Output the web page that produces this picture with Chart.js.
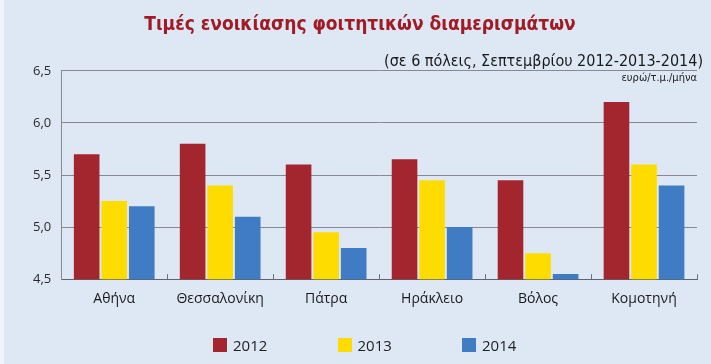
<!DOCTYPE html>
<html>
<head>
<meta charset="utf-8">
<script src="https://cdn.jsdelivr.net/npm/chart.js@4.4.1/dist/chart.umd.min.js"></script>
<style>
  html, body { margin: 0; padding: 0; background: #DDE8F4; }
  #wrap { position: relative; width: 711px; height: 364px; background: #DDE8F4; overflow: hidden; }
  #wrap:before { content: ""; position: absolute; left: 0; top: 0; width: 4px; height: 364px; background: #EEF4FA; }
  canvas { position: absolute; left: 0; top: 0; }
  #sub { position: absolute; right: 8px; top: 51px; font: 16px/19px "DejaVu Sans Condensed", sans-serif; color: #1a1a1a; white-space: nowrap; }
  #unit { position: absolute; right: 14px; top: 71px; font: 11px "DejaVu Sans Condensed", sans-serif; color: #222; }
  #legend { position: absolute; left: 213px; top: 335px; display: flex; }
  .item { width: 124.5px; display: flex; align-items: center; font: 15px "Open Sans", sans-serif; color: #222; }
  .box { width: 14px; height: 14px; margin-right: 6px; }
</style>
</head>
<body>
<div id="wrap">
  <canvas id="c" width="711" height="364"></canvas>
  <div id="sub"></div>
  <div id="unit">ευρώ/τ.μ./μήνα</div>
  <div id="legend"></div>
</div>
<script>
const titleText = "Τιμές ενοικίασης φοιτητικών διαμερισμάτων";
const subtitleText = "(σε 6 πόλεις, Σεπτεμβρίου 2012-2013-2014)";
const cities = ["Αθήνα", "Θεσσαλονίκη", "Πάτρα", "Ηράκλειο", "Βόλος", "Κομοτηνή"];
const years = ["2012", "2013", "2014"];
const values2012 = [5.7, 5.8, 5.6, 5.65, 5.45, 6.2];
const values2013 = [5.25, 5.4, 4.95, 5.45, 4.75, 5.6];
const values2014 = [5.2, 5.1, 4.8, 5.0, 4.55, 5.4];
const yTicks = [4.5, 5.0, 5.5, 6.0, 6.5];
const colors = ["#A3262E", "#FFDC00", "#3F7CC4"];

const seriesValues = [values2012, values2013, values2014];

document.getElementById('sub').textContent = subtitleText;

const boundaryTicks = {
  id: 'boundaryTicks',
  afterDatasetsDraw(chart) {
    const x = chart.scales.x, ctx = chart.ctx;
    const n = cities.length;
    const half = (x.getPixelForValue(1) - x.getPixelForValue(0)) / 2;
    ctx.save();
    ctx.strokeStyle = '#6d7178';
    ctx.lineWidth = 1;
    for (let i = 1; i <= n; i++) {
      const px = Math.round(x.getPixelForValue(i - 1) + half) + 0.5;
      ctx.beginPath();
      ctx.moveTo(px, x.top);
      ctx.lineTo(px, x.top - 5);
      ctx.stroke();
    }
    ctx.restore();
  }
};

const chart = new Chart(document.getElementById('c'), {
  type: 'bar',
  data: {
    labels: cities,
    datasets: years.map((y, i) => ({
      label: y,
      data: seriesValues[i],
      backgroundColor: colors[i],
      borderWidth: 0,
      categoryPercentage: 0.78,
      barPercentage: 0.93
    }))
  },
  options: {
    responsive: false,
    animation: false,
    layout: { padding: { left: 23, right: 14, top: 0, bottom: 54 } },
    plugins: {
      legend: { display: false },
      tooltip: { enabled: false },
      title: {
        display: true,
        text: titleText,
        color: '#A01B24',
        font: { family: '"DejaVu Sans Condensed", sans-serif', size: 19, weight: 'bold' },
        padding: { top: 14, bottom: 34 }
      }
    },
    scales: {
      x: {
        grid: { display: false },
        border: { display: true, color: '#5f636a', width: 1 },
        ticks: { color: '#1a1a1a', padding: 3, font: { family: '"Open Sans", sans-serif', size: 14 } }
      },
      y: {
        min: 4.5,
        max: 6.5,
        afterBuildTicks(axis) { axis.ticks = yTicks.map(v => ({ value: v })); },
        grid: { color: '#858a92', lineWidth: 1, drawTicks: false },
        border: { display: true, color: '#858a92', width: 1 },
        ticks: {
          color: '#2a2a2a',
          padding: 10,
          font: { family: '"Open Sans", sans-serif', size: 13 },
          callback: v => Number(v).toFixed(1).replace('.', ',')
        }
      }
    }
  },
  plugins: [boundaryTicks]
});

const legend = document.getElementById('legend');
years.forEach((y, i) => {
  const item = document.createElement('div');
  item.className = 'item';
  const box = document.createElement('span');
  box.className = 'box';
  box.style.background = colors[i];
  const t = document.createElement('span');
  t.textContent = y;
  item.appendChild(box);
  item.appendChild(t);
  legend.appendChild(item);
});
</script>
</body>
</html>
